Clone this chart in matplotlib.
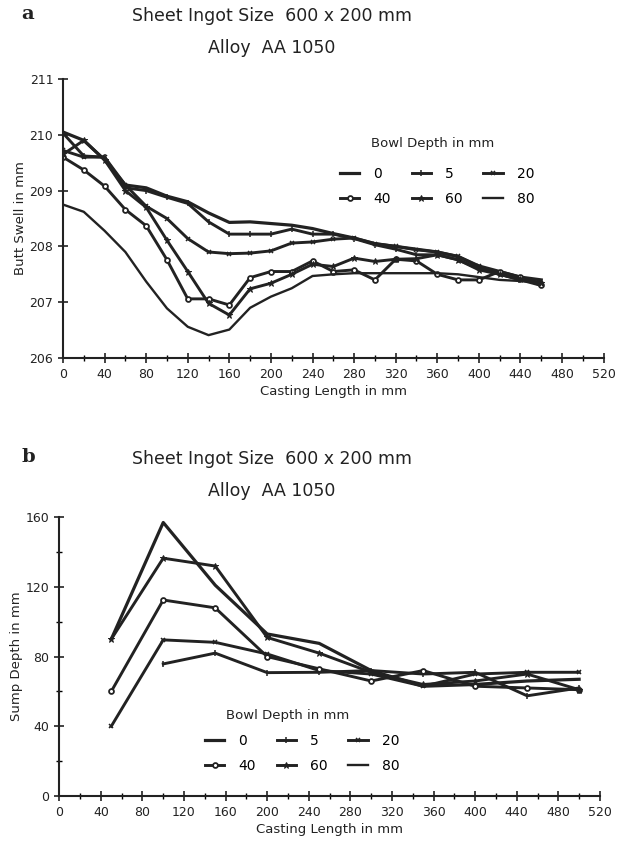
import matplotlib
matplotlib.use("Agg")
import matplotlib.pyplot as plt
from matplotlib.lines import Line2D
from matplotlib.ticker import MultipleLocator

plt.rcParams['font.family'] = ['DejaVu Sans']

# Chart a: butt swell vs casting length
x_a = [0, 20, 40, 60, 80, 100, 120, 140, 160, 180, 200, 220,
       240, 260, 280, 300, 320, 340, 360, 380, 400, 420, 440, 460]
swell_0 = [210.05, 209.9, 209.55, 209.1, 209.05, 208.9, 208.8, 208.6, 208.43, 208.44, 208.41, 208.38,
           208.32, 208.23, 208.15, 208.05, 208.0, 207.95, 207.9, 207.82, 207.65, 207.55, 207.45, 207.4]
swell_5 = [210.03, 209.62, 209.6, 209.05, 209.0, 208.88, 208.77, 208.44, 208.22, 208.22, 208.22, 208.31,
           208.22, 208.22, 208.14, 208.03, 207.95, 207.85, 207.85, 207.76, 207.6, 207.5, 207.4, 207.3]
swell_20 = [209.72, 209.6, 209.6, 209.1, 208.72, 208.5, 208.14, 207.9, 207.87, 207.88, 207.92, 208.06,
            208.08, 208.13, 208.15, 208.05, 208.0, 207.94, 207.9, 207.82, 207.64, 207.5, 207.4, 207.35]
swell_40 = [209.6, 209.37, 209.08, 208.66, 208.37, 207.76, 207.06, 207.06, 206.95, 207.44, 207.55, 207.55,
            207.74, 207.55, 207.58, 207.4, 207.77, 207.74, 207.5, 207.4, 207.4, 207.55, 207.45, 207.3]
swell_60 = [209.65, 209.9, 209.55, 209.0, 208.7, 208.11, 207.55, 206.98, 206.77, 207.24, 207.34, 207.5,
            207.68, 207.64, 207.79, 207.73, 207.77, 207.78, 207.85, 207.76, 207.58, 207.5, 207.42, 207.35]
swell_80 = [208.75, 208.62, 208.28, 207.9, 207.37, 206.89, 206.56, 206.41, 206.51, 206.9, 207.1, 207.25,
            207.47, 207.5, 207.52, 207.52, 207.52, 207.52, 207.52, 207.5, 207.45, 207.4, 207.38, 207.35]

# Chart b: sump depth vs casting length
x_b = [50, 100, 150, 200, 250, 300, 350, 400, 450, 500]
sump_0 = [90, 157, 121, 93, 87.6, 72, 63, 64, 66, 67]
sump_5 = [None, 75.8, 82, 70.8, 71, 72, 70, 71, 57.5, 62]
sump_20 = [40, 89.6, 88.2, 81.5, 72, 70, 63, 70, 71, 71]
sump_40 = [60, 112.5, 108, 80, 73, 66, 72, 63, 62, 61]
sump_60 = [90, 136.5, 132, 91, 82, 71, 64, 66, 70, 61]
sump_80 = []

depths = ['0', '5', '20', '40', '60', '80']
ink = '#222222'
styles = {
    '0': dict(lw=2.3, marker=None),
    '5': dict(lw=2.1, marker='|', ms=4, mew=1.1),
    '20': dict(lw=2.1, marker='x', ms=3.5, mew=1.1),
    '40': dict(lw=2.1, marker='o', ms=3.5, mfc='white', mew=1.3),
    '60': dict(lw=2.1, marker='*', ms=4.5, mew=0.7),
    '80': dict(lw=1.7, marker=None),
}


def draw(ax, x, series):
    for d, y in zip(depths, series):
        pts = [(a, b) for a, b in zip(x, y) if b is not None]
        if not pts:
            continue
        xs, ys = zip(*pts)
        ax.plot(xs, ys, color=ink, mec=ink, **styles[d])


def frame(ax):
    for s in ['top', 'right']:
        ax.spines[s].set_visible(False)
    for s in ['left', 'bottom']:
        ax.spines[s].set_linewidth(1.5)
        ax.spines[s].set_color(ink)
    ax.set_xlim(0, 520)
    ax.xaxis.set_major_locator(MultipleLocator(40))
    ax.xaxis.set_minor_locator(MultipleLocator(20))
    ax.tick_params(which='major', direction='inout', length=7, width=1.2, labelsize=9, colors=ink)
    ax.tick_params(which='minor', direction='inout', length=4, width=1.0)
    ax.set_xlabel('Casting Length in mm', fontsize=9.5, labelpad=3, color=ink)


def legend(ax, title_xy, anchor):
    handles = [Line2D([], [], color=ink, mec=ink, **styles[d]) for d in depths]
    order = [0, 3, 1, 4, 2, 5]
    fig.text(title_xy[0] / 620, 1 - title_xy[1] / 843, 'Bowl Depth in mm',
             ha='center', va='center', fontsize=9.5, color=ink)
    ax.legend([handles[i] for i in order], [depths[i] for i in order], ncol=3,
              fontsize=10, frameon=False, loc='upper left',
              bbox_to_anchor=(anchor[0] / 620, 1 - anchor[1] / 843),
              bbox_transform=fig.transFigure, handlelength=1.4, handletextpad=1.0,
              columnspacing=1.5, labelspacing=0.8, borderaxespad=0, borderpad=0)


fig = plt.figure(figsize=(6.2, 8.43), dpi=100)

ax1 = fig.add_axes([0.1016, 0.5753, 0.872, 0.331])
draw(ax1, x_a, [swell_0, swell_5, swell_20, swell_40, swell_60, swell_80])
frame(ax1)
ax1.set_ylim(206, 211)
ax1.yaxis.set_major_locator(MultipleLocator(1))
ax1.set_ylabel('Butt Swell in mm', fontsize=9.5, labelpad=2, color=ink)
legend(ax1, (433, 143), (340, 167))

ax2 = fig.add_axes([0.0956, 0.0558, 0.872, 0.3306])
draw(ax2, x_b, [sump_0, sump_5, sump_20, sump_40, sump_60, sump_80])
frame(ax2)
ax2.set_ylim(0, 160)
ax2.yaxis.set_major_locator(MultipleLocator(40))
ax2.yaxis.set_minor_locator(MultipleLocator(20))
ax2.set_ylabel('Sump Depth in mm', fontsize=9.5, labelpad=2, color=ink)
legend(ax2, (288, 716), (205, 734))

# titles and panel letters
for top, letter in [(0, 'a'), (443, 'b')]:
    fig.text(272 / 620, 1 - (16 + top) / 843, 'Sheet Ingot Size  600 x 200 mm',
             ha='center', va='center', fontsize=12.5, color=ink)
    fig.text(272 / 620, 1 - (48 + top) / 843, 'Alloy  AA 1050',
             ha='center', va='center', fontsize=12.5, color=ink)
    fig.text(28 / 620, 1 - (14 + top) / 843, letter, ha='center', va='center',
             fontsize=14, fontweight='bold', family='DejaVu Serif', color=ink)

fig.savefig('out.png', dpi=100)
